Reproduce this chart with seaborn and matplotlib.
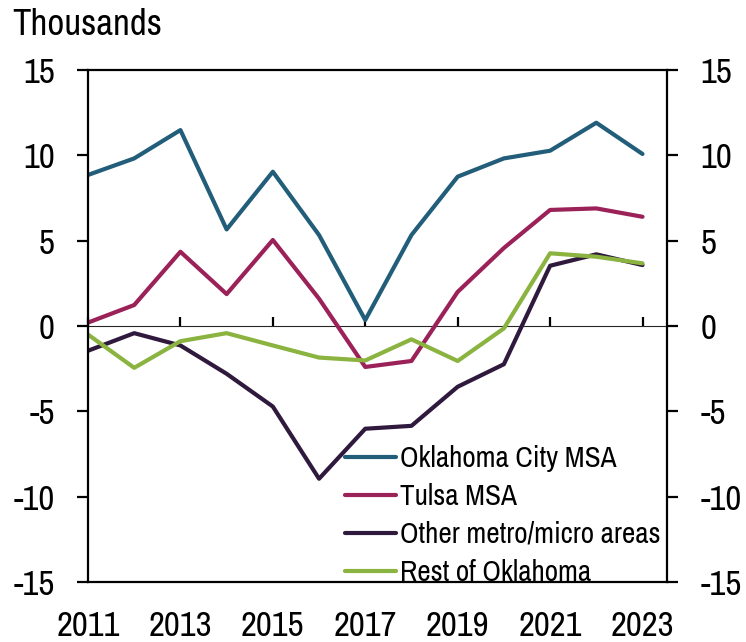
import matplotlib
matplotlib.use("Agg")
import matplotlib.pyplot as plt
import seaborn as sns
import pandas as pd

years = list(range(2011, 2024))
okc = [8.85, 9.82, 11.48, 5.66, 9.04, 5.33, 0.35, 5.33, 8.75, 9.82, 10.27, 11.91, 10.08]
tulsa = [0.2, 1.23, 4.35, 1.87, 5.04, 1.6, -2.4, -2.05, 2.0, 4.57, 6.8, 6.89, 6.4]
other = [-1.45, -0.42, -1.14, -2.8, -4.72, -8.95, -6.02, -5.85, -3.56, -2.24, 3.53, 4.2, 3.57]
rest = [-0.5, -2.45, -0.89, -0.42, -1.14, -1.85, -2.02, -0.78, -2.05, -0.14, 4.26, 4.06, 3.67]
series_names = ["Oklahoma City MSA", "Tulsa MSA", "Other metro/micro areas", "Rest of Oklahoma"]
colors = ["#225E79", "#9B2159", "#2F1A3E", "#8AB33F"]
y_ticks = [-15, -10, -5, 0, 5, 10, 15]
x_ticks = [2011, 2013, 2015, 2017, 2019, 2021, 2023]

df = pd.DataFrame({
    "year": years * 4,
    "value": okc + tulsa + other + rest,
    "series": sum([[n] * len(years) for n in series_names], []),
})

sns.set_style("white")
plt.rcParams["font.family"] = ["Archivo Narrow", "Liberation Sans", "DejaVu Sans"]
plt.rcParams["axes.unicode_minus"] = False
plt.rcParams["text.color"] = "black"

fig = plt.figure(figsize=(7.46, 6.42), dpi=100)
ax = fig.add_axes([88 / 746, 1 - 582 / 642, (667 - 88) / 746, (582 - 70) / 642])

sns.lineplot(data=df, x="year", y="value", hue="series", hue_order=series_names,
             palette=colors, linewidth=3, ax=ax, legend=True)

ax.set_xlim(2011, 2023.53)
ax.set_ylim(-15, 15)
ax.set_yticks(y_ticks)
ax.set_xticks(x_ticks)
ax.set_xlabel("")
ax.set_ylabel("")
for s in ax.spines.values():
    s.set_visible(True)
    s.set_color("black")
    s.set_linewidth(1.6)

ax.tick_params(axis="y", which="both", direction="out", length=8, width=1.6,
               labelsize=25, pad=16, left=True, right=True, labelleft=True, labelright=True,
               color="black", labelcolor="black")
ax.tick_params(axis="x", length=0, labelsize=25, pad=20, labelcolor="black")

# zero line with year ticks
sec = ax.secondary_xaxis(0.5)
sec.set_xticks(x_ticks)
sec.set_xticklabels([])
sec.tick_params(axis="x", direction="out", length=6.5, width=1.6, color="black")
sec.spines["bottom"].set_linewidth(1.6)
sec.spines["bottom"].set_color("black")

handles, labels = ax.get_legend_handles_labels()
leg = ax.legend(handles, labels, loc="upper left", bbox_to_anchor=(0.444, 0.268),
                frameon=False, fontsize=21, handlelength=1.75, handletextpad=0.15,
                labelspacing=0.38, borderpad=0, borderaxespad=0)
for h in leg.get_lines():
    h.set_linewidth(3)
for t in leg.get_texts():
    t.set_color("black")

fig.text(12 / 746, 1 - 35 / 642, "Thousands", fontsize=26.5, ha="left", va="baseline",
         color="black")

fig.savefig("out.png", dpi=100)
